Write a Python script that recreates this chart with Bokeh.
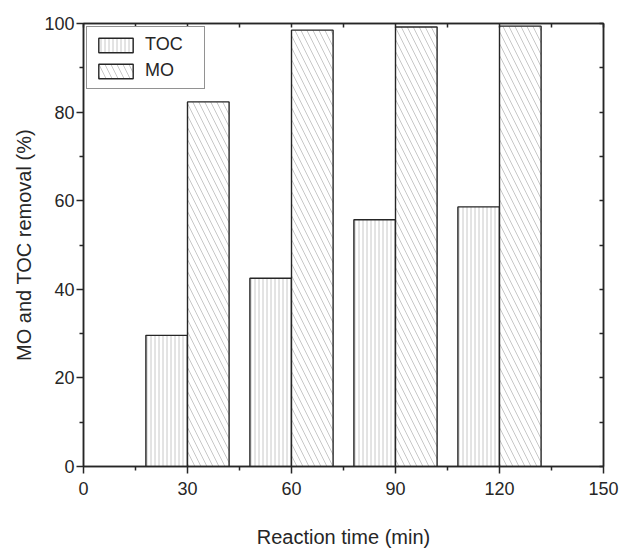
from bokeh.plotting import figure
from bokeh.models import LinearAxis, FixedTicker, ColumnDataSource, Range1d, Legend
from bokeh.transform import dodge
from bokeh.embed import file_html
from bokeh.resources import INLINE

time_min = [30, 60, 90, 120]
toc_removal = [29.6, 42.5, 55.7, 58.6]
mo_removal = [82.3, 98.5, 99.2, 99.4]

x_ticks = [0, 30, 60, 90, 120, 150]
x_minor = [15, 45, 75, 105, 135]
y_ticks = [0, 20, 40, 60, 80, 100]
y_minor = [10, 30, 50, 70, 90]

src = ColumnDataSource(dict(time=time_min, toc=toc_removal, mo=mo_removal))

FONT = "Liberation Sans"
INK = "#262626"

p = figure(width=629, height=555, output_backend="svg", toolbar_location=None,
           x_range=Range1d(0, 150), y_range=Range1d(0, 100),
           min_border_left=83, min_border_right=26, min_border_top=23, min_border_bottom=89,
           x_axis_label="Reaction time (min)", y_axis_label="MO and TOC removal (%)")
p.grid.visible = False
p.outline_line_color = INK
p.outline_line_width = 1.5
p.background_fill_color = "white"
p.border_fill_color = "white"

bw = 12
r_toc = p.vbar(x=dodge("time", -bw / 2, range=p.x_range), top="toc", width=bw, bottom=0, source=src,
               fill_color="white", line_color=INK, line_width=1.4,
               hatch_pattern="vertical_line", hatch_color="#c8c8c8", hatch_scale=4, hatch_weight=1)
r_mo = p.vbar(x=dodge("time", bw / 2, range=p.x_range), top="mo", width=bw, bottom=0, source=src,
              fill_color="white", line_color=INK, line_width=1.4,
              hatch_pattern="left_diagonal_line", hatch_color="#c8c8c8", hatch_scale=12, hatch_weight=1)

xt = FixedTicker(ticks=x_ticks, minor_ticks=x_minor)
yt = FixedTicker(ticks=y_ticks, minor_ticks=y_minor)

for ax, t in ((p.xaxis[0], xt), (p.yaxis[0], yt)):
    ax.ticker = t
    ax.axis_line_color = INK
    ax.axis_line_width = 1.5
    ax.major_tick_line_color = INK
    ax.minor_tick_line_color = INK
    ax.major_tick_line_width = 1.5
    ax.minor_tick_line_width = 1.5
    ax.major_tick_out = 7
    ax.major_tick_in = 0
    ax.minor_tick_out = 4
    ax.minor_tick_in = 0
    ax.major_label_text_font = FONT
    ax.major_label_text_font_size = "18px"
    ax.major_label_text_color = INK
    ax.axis_label_text_font = FONT
    ax.axis_label_text_font_size = "20px"
    ax.axis_label_text_font_style = "normal"
    ax.axis_label_text_color = INK

p.xaxis[0].major_label_standoff = 8
p.xaxis[0].axis_label_standoff = 28
p.yaxis[0].major_label_standoff = 2
p.yaxis[0].axis_label_standoff = 6


def frame_axis(ticks):
    ax = LinearAxis(ticker=FixedTicker(ticks=ticks, minor_ticks=[]),
                    major_tick_in=4, major_tick_out=0,
                    axis_line_color=INK, axis_line_width=1.5,
                    major_tick_line_color=INK, major_tick_line_width=1.5,
                    minor_tick_line_color=None, major_label_text_color=None)
    ax.major_label_overrides = {t: "" for t in ticks}
    return ax


p.add_layout(frame_axis(sorted(x_ticks + x_minor)), "above")
p.add_layout(frame_axis(sorted(y_ticks + y_minor)), "right")

legend = Legend(items=[("TOC", [r_toc]), ("MO", [r_mo])], location="top_left",
                margin=3, padding=7, spacing=5, glyph_width=43, glyph_height=18,
                label_text_font=FONT, label_text_font_size="18px", label_text_color=INK,
                label_standoff=8, label_width=52, border_line_color=INK, border_line_width=1.5,
                background_fill_color="white", background_fill_alpha=1.0)
p.add_layout(legend)

open("out.html", "w").write(file_html(p, INLINE))
